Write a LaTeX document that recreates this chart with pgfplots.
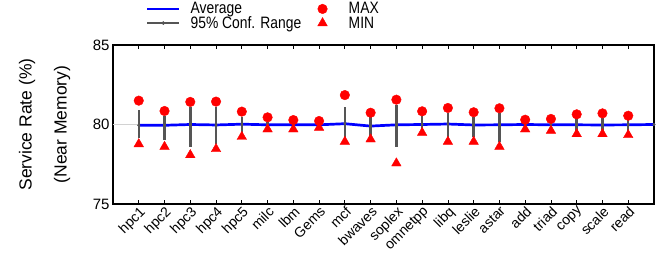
\documentclass[border=0pt]{standalone}
\usepackage{fontspec}
\setmainfont{Liberation Sans}
\newfontfamily\legfont[FakeStretch=0.84]{Liberation Sans}
\usepackage{pgfplots}
\usepackage{pgfplotstable}
\pgfplotsset{compat=1.18}
\definecolor{confgray}{RGB}{85,85,85}

\pgfplotstableread{
x avg lo hi mx mn
0 79.95 79.13 80.90 81.50 78.77
1 79.95 79.03 80.53 80.85 78.60
2 80.00 78.60 81.12 81.42 78.08
3 79.97 78.77 81.08 81.44 78.46
4 80.02 79.45 80.45 80.81 79.23
5 79.98 79.76 80.18 80.45 79.70
6 79.98 79.85 80.10 80.28 79.70
7 79.98 79.88 80.08 80.22 79.80
8 80.05 78.98 81.12 81.85 78.92
9 79.90 79.28 80.45 80.74 79.07
10 79.98 78.57 81.23 81.56 77.56
11 80.00 79.65 80.53 80.83 79.48
12 80.03 79.17 80.74 81.04 78.92
13 79.97 79.20 80.45 80.77 78.92
14 79.98 78.92 80.70 81.02 78.60
15 80.00 79.80 80.10 80.30 79.70
16 79.98 79.75 80.15 80.35 79.61
17 79.98 79.55 80.39 80.64 79.40
18 79.97 79.55 80.39 80.70 79.40
19 79.98 79.55 80.28 80.55 79.34
20 80.00 80.00 80.00 nan nan
}\data

\begin{document}
\begin{tikzpicture}
\useasboundingbox (-113pt,-60pt) rectangle (557pt,204pt);
\begin{axis}[
  scale only axis, width=541pt, height=159pt,
  xmin=-1, xmax=20, ymin=75, ymax=85,
  ytick={75,80,85},
  xtick={0,...,19},
  xticklabels={hpc1,hpc2,hpc3,hpc4,hpc5,milc,lbm,Gems,mcf,bwaves,soplex,omnetpp,libq,leslie,astar,add,triad,copy,scale,read},
  xticklabel style={rotate=45, anchor=north east, font=\fontsize{14}{14}\selectfont, inner sep=1pt},
  yticklabel style={font=\fontsize{15}{15}\selectfont},
  tick align=inside,
  major tick length=4pt,
  ytick pos=left,
  axis line style={line width=1.2pt},
  tick style={black, line width=0.8pt},
  ylabel={Service Rate (\%)\\(Near Memory)},
  ylabel style={at={(axis description cs:-0.1266,0.5)}, anchor=center, align=center, font=\fontsize{17.5}{35}\selectfont},
  legend columns=2,
  transpose legend,
  legend cell align=left,
  legend style={at={(axis description cs:0.055,1)}, anchor=south west, yshift=11pt, draw=none, fill=none,
    font=\legfont\fontsize{16.5}{16.5}\selectfont, row sep=-3pt,
    /tikz/every odd column/.append style={column sep=8pt},
    /tikz/every even column/.append style={column sep=3pt}},
  /pgf/number format/assume math mode=true,
]
\addplot[gray!35, line width=1pt, forget plot] coordinates {(-1,80) (0,80)};
\addplot[blue, line width=2.7pt, legend image code/.code={\draw[blue, line width=2.7pt] (0pt,0pt) -- (32pt,0pt);}] table[x=x, y=avg] {\data};
\addlegendentry{Average}
\addplot[confgray, only marks, mark=*, mark size=1.3pt,
  legend image code/.code={\draw[confgray, line width=2.7pt] (0pt,0pt) -- (32pt,0pt); \fill[confgray] (16pt,0pt) circle (1.6pt);},
  error bars/.cd, y dir=both, y explicit, error mark=none,
  error bar style={line width=2.5pt, confgray},
  ]
  table[x=x, y=avg, y error plus expr=\thisrow{hi}-\thisrow{avg}, y error minus expr=\thisrow{avg}-\thisrow{lo}] {\data};
\addlegendentry{95\% Conf. Range}
\addplot[red, only marks, mark=*, mark size=4.8pt, legend image code/.code={\draw[red, fill=red] plot[mark=*, mark size=4.8pt] coordinates {(16pt,0pt)}; \path (0pt,0pt) (32pt,0pt);}] table[x=x, y=mx] {\data};
\addlegendentry{MAX}
\addplot[red, only marks, mark=triangle*, mark size=5.5pt, legend image code/.code={\draw[red, fill=red] plot[mark=triangle*, mark size=5.5pt] coordinates {(16pt,0pt)}; \path (0pt,0pt) (32pt,0pt);}] table[x=x, y=mn] {\data};
\addlegendentry{MIN}
\end{axis}
\end{tikzpicture}
\end{document}
